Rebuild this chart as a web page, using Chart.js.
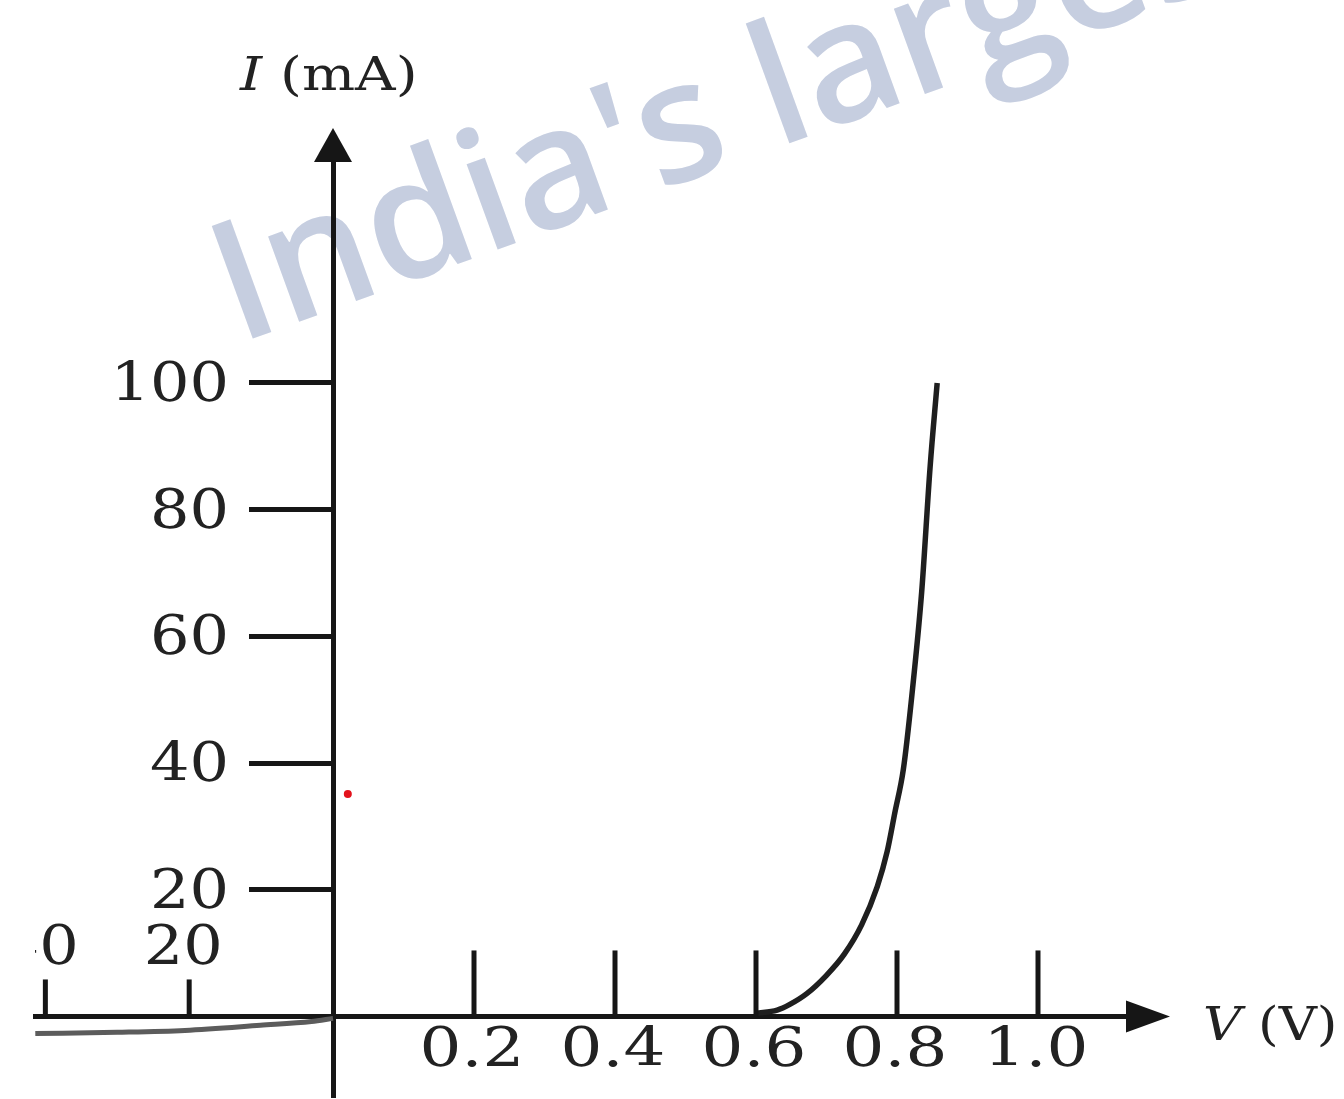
<!DOCTYPE html>
<html lang="en">
<head>
  <meta charset="UTF-8" />
  <title>Diode I-V characteristic</title>
  <script src="https://cdn.jsdelivr.net/npm/chart.js"></script>
  <style>
    html, body {
      margin: 0;
      padding: 0;
      background: #ffffff;
    }
    #ivChart {
      display: block;
    }
  </style>
</head>
<body>

<canvas id="ivChart" width="1344" height="1099"></canvas>

<script>
// forward bias: V in volts, I in mA
const fwdV = [0.600, 0.630, 0.648, 0.672, 0.700, 0.725, 0.750, 0.772, 0.786, 0.797, 0.809, 0.821, 0.835, 0.847, 0.857];
const fwdI = [0.5, 1.0, 1.9, 3.6, 6.5, 9.8, 14.5, 20.5, 26.0, 32.2, 39.0, 50.6, 67.0, 86.8, 100];

// reverse bias: V in volts (drawn on a compressed scale), I in plot units
const revV = [-41.4, -30, -20.6, -10.1, -3.0, 0];
const revI = [-2.7, -2.5, -2.2, -1.4, -0.8, -0.3];
const revScale = 0.0102; // axis units per reverse volt

// stray red dot on the original figure
const markV = [0.021];
const markI = [35.1];

// tick labels
const xTicksFwd = [0.2, 0.4, 0.6, 0.8, 1.0];
const xTicksRev = [-20, -40];
const yTicks = [20, 40, 60, 80, 100];

const ink = '#161616';
const textInk = '#222222';
const serif = "'DejaVu Serif', 'Liberation Serif', serif";

// watermark behind everything
const watermark = {
  id: 'watermark',
  beforeDraw(chart) {
    const c = chart.ctx;
    c.save();
    c.translate(238, 344);
    c.rotate(-20 * Math.PI / 180);
    c.fillStyle = '#c6cee0';
    c.font = "600 168px 'Open Sans', 'Noto Sans', sans-serif";
    c.textBaseline = 'alphabetic';
    c.fillText("India's largest", 0, 0);
    c.restore();
  }
};

// draws text stretched sideways like the scanned figure
function wideText(c, parts, x, y, stretch, align) {
  c.save();
  let total = 0;
  parts.forEach(p => { c.font = p.font; total += c.measureText(p.text).width; });
  let start = 0;
  if (align === 'center') start = -total / 2;
  if (align === 'right') start = -total;
  c.translate(x, y);
  c.scale(stretch, 1);
  c.textAlign = 'left';
  let cx = start;
  parts.forEach(p => {
    c.font = p.font;
    c.fillText(p.text, cx, 0);
    cx += c.measureText(p.text).width;
  });
  c.restore();
}

// upward tick marks, tick labels, arrows and axis titles
const axisDecor = {
  id: 'axisDecor',
  afterDraw(chart) {
    const c = chart.ctx;
    const xs = chart.scales.x;
    const ys = chart.scales.y;
    const x0 = xs.getPixelForValue(0);
    const y0 = ys.getPixelForValue(0);
    const area = chart.chartArea;
    const tickFont = '54px ' + serif;

    c.save();
    c.strokeStyle = ink;
    c.fillStyle = ink;
    c.lineWidth = 5;

    xTicksFwd.forEach(v => {
      const px = xs.getPixelForValue(v);
      c.beginPath();
      c.moveTo(px, y0);
      c.lineTo(px, y0 - 66);
      c.stroke();
    });

    xTicksRev.forEach(v => {
      const px = xs.getPixelForValue(v * revScale);
      c.beginPath();
      c.moveTo(px, y0);
      c.lineTo(px, y0 - 37);
      c.stroke();
    });

    // arrow heads
    c.beginPath();
    c.moveTo(x0, area.top - 32);
    c.lineTo(x0 - 19, area.top + 2);
    c.lineTo(x0 + 19, area.top + 2);
    c.closePath();
    c.fill();

    c.beginPath();
    c.moveTo(area.right + 40, y0);
    c.lineTo(area.right - 4, y0 - 16);
    c.lineTo(area.right - 4, y0 + 16);
    c.closePath();
    c.fill();

    c.fillStyle = textInk;
    c.textBaseline = 'middle';

    // y tick labels, left of the tick marks
    yTicks.forEach(v => {
      wideText(c, [{ text: String(v), font: tickFont }], x0 - 104, ys.getPixelForValue(v) + 4, 1.15, 'right');
    });

    // forward voltage labels under the axis
    xTicksFwd.forEach(v => {
      wideText(c, [{ text: v.toFixed(1), font: tickFont }], xs.getPixelForValue(v) - 2, y0 + 36, 1.22, 'center');
    });

    // reverse voltage labels above their ticks (cropped at the left like the scan)
    c.save();
    c.beginPath();
    c.rect(area.left, 0, chart.width, chart.height);
    c.clip();
    xTicksRev.forEach(v => {
      const px = xs.getPixelForValue(v * revScale);
      wideText(c, [{ text: String(Math.abs(v)), font: tickFont }], px - 6, y0 - 66, 1.15, 'center');
    });
    c.restore();

    // axis titles
    c.textBaseline = 'alphabetic';
    wideText(c, [
      { text: 'I ', font: 'italic 46px ' + serif },
      { text: '(mA)', font: '46px ' + serif }
    ], 240, 90, 1.22, 'left');
    wideText(c, [
      { text: 'V ', font: 'italic 46px ' + serif },
      { text: '(V)', font: '46px ' + serif }
    ], 1203, 1040, 1.15, 'left');

    c.restore();
  }
};

const ctx = document.getElementById('ivChart').getContext('2d');
const ivChart = new Chart(ctx, {
  type: 'line',
  data: {
    datasets: [
      {
        label: 'forward',
        data: fwdV.map((v, i) => ({ x: v, y: fwdI[i] })),
        borderColor: '#1f1f1f',
        borderWidth: 5.5,
        pointRadius: 0,
        cubicInterpolationMode: 'monotone',
        fill: false
      },
      {
        label: 'reverse',
        data: revV.map((v, i) => ({ x: v * revScale, y: revI[i] })),
        borderColor: '#5c5c5c',
        borderWidth: 5,
        pointRadius: 0,
        cubicInterpolationMode: 'monotone',
        fill: false
      },
      {
        label: 'mark',
        data: markV.map((v, i) => ({ x: v, y: markI[i] })),
        showLine: false,
        pointRadius: 4,
        pointBorderWidth: 0,
        pointBackgroundColor: '#e3121c'
      }
    ]
  },
  options: {
    responsive: false,
    animation: false,
    layout: { padding: { left: 35, right: 214, top: 160, bottom: 0 } },
    plugins: {
      legend: { display: false },
      tooltip: { enabled: false }
    },
    scales: {
      x: {
        type: 'linear',
        min: -0.4227,
        max: 1.1305,
        position: { y: 0 },
        grid: { drawOnChartArea: false, drawTicks: false },
        border: { display: true, color: ink, width: 5 },
        afterBuildTicks: scale => { scale.ticks = xTicksFwd.map(v => ({ value: v })); },
        ticks: { display: false }
      },
      y: {
        type: 'linear',
        min: -12.4,
        max: 135.2,
        position: { x: 0 },
        grid: { drawOnChartArea: false, drawTicks: true, tickLength: 82, lineWidth: 5, color: ink },
        border: { display: true, color: ink, width: 5 },
        afterBuildTicks: scale => { scale.ticks = yTicks.map(v => ({ value: v })); },
        ticks: { display: false }
      }
    }
  },
  plugins: [watermark, axisDecor]
});
</script>

</body>
</html>
